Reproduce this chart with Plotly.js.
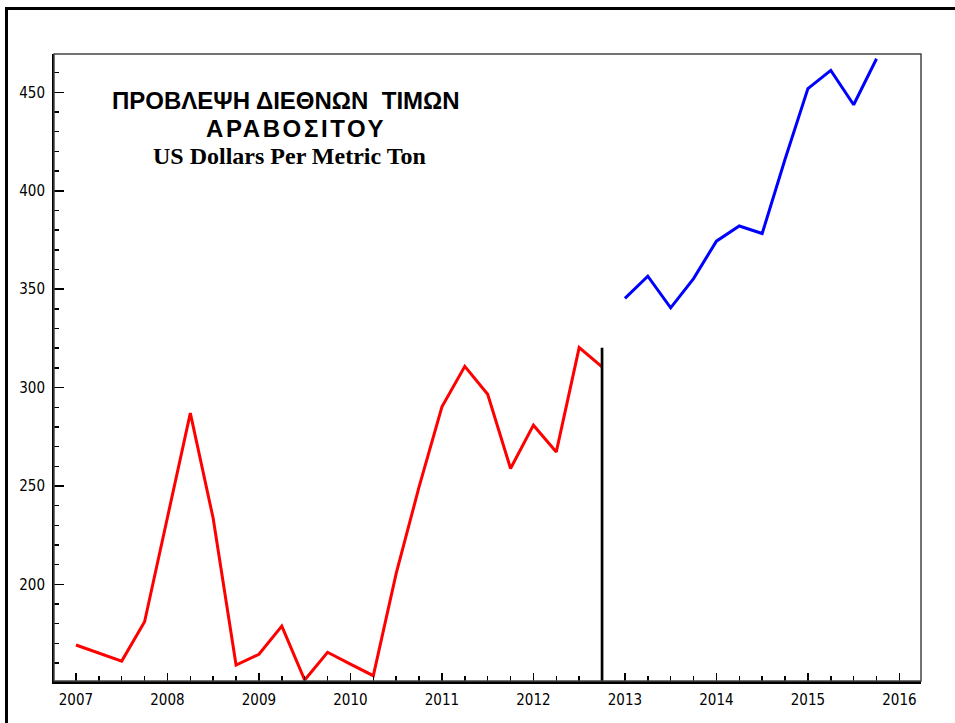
<!DOCTYPE html>
<html>
<head>
<meta charset="utf-8">
<script src="https://cdn.plot.ly/plotly-3.0.1.min.js"></script>
<style>html,body{margin:0;padding:0;background:#fff;}#chart{width:955px;height:723px;}</style>
</head>
<body>
<div id="chart"></div>
<script>
// Historical quarterly prices (red)
const histYears = [2007, 2007.25, 2007.5, 2007.75, 2008, 2008.25, 2008.5, 2008.75,
  2009, 2009.25, 2009.5, 2009.75, 2010, 2010.25, 2010.5, 2010.75,
  2011, 2011.25, 2011.5, 2011.75, 2012, 2012.25, 2012.5, 2012.75];
const histPrices = [169.2, 165, 161, 181, 234.3, 287, 233.5, 159,
  164.5, 178.8, 151.4, 165.5, 159.5, 153.6, 205.6, 249.5,
  290.2, 310.8, 296.6, 258.9, 280.9, 267.3, 320.3, 310.5];
// Forecast quarterly prices (blue)
const fcYears = [2013, 2013.25, 2013.5, 2013.75, 2014, 2014.25, 2014.5, 2014.75,
  2015, 2015.25, 2015.5, 2015.75];
const fcPrices = [345.3, 356.6, 340.5, 355.4, 374.4, 382.1, 378.3, 416,
  451.9, 461.2, 443.7, 467.1];
// Divider between history and forecast
const dividerX = [2012.75, 2012.75];
const dividerY = [150.9, 320.2];
// Axis ticks
const xTickVals = [2007, 2008, 2009, 2010, 2011, 2012, 2013, 2014, 2015, 2016];
const xTickText = ['2007', '2008', '2009', '2010', '2011', '2012', '2013', '2014', '2015', '2016'];
const yTickVals = [200, 250, 300, 350, 400, 450];
const yTickText = ['200', '250', '300', '350', '400', '450'];
// Titles
const titleLine1 = 'ΠΡΟΒΛΕΨΗ ΔΙΕΘΝΩΝ\u00A0 ΤΙΜΩΝ';
const titleLine2 = 'ΑΡΑΒΟΣΙΤΟΥ';
const titleLine3 = 'US Dollars Per Metric Ton';

const tickFont = {family: '"Liberation Sans Narrow", "DejaVu Sans Condensed", "Arial Narrow", sans-serif', size: 15, color: '#000'};

const traces = [
  {x: histYears, y: histPrices, type: 'scatter', mode: 'lines', line: {color: '#ff0000', width: 3}, hoverinfo: 'skip'},
  {x: fcYears, y: fcPrices, type: 'scatter', mode: 'lines', line: {color: '#0000ff', width: 3}, hoverinfo: 'skip'},
  {x: dividerX, y: dividerY, type: 'scatter', mode: 'lines', line: {color: '#000', width: 2.7}, hoverinfo: 'skip'}
];

const layout = {
  width: 955, height: 723,
  margin: {l: 54, r: 34, t: 54, b: 42, pad: 0},
  paper_bgcolor: '#fff', plot_bgcolor: '#fff',
  showlegend: false,
  xaxis: {
    range: [2006.76, 2016.236], type: 'linear',
    tickmode: 'array', tickvals: xTickVals, ticktext: xTickText,
    ticks: 'inside', ticklen: 8, tickwidth: 1.5, tickcolor: '#000',
    minor: {dtick: 0.25, tick0: 2007, ticks: 'inside', ticklen: 5, tickwidth: 1.5, tickcolor: '#000', showgrid: false},
    showline: true, linecolor: '#000', linewidth: 2.5,
    showgrid: false, zeroline: false, tickfont: tickFont, ticklabelstandoff: 3
  },
  yaxis: {
    range: [150.9, 469.5], type: 'linear',
    tickmode: 'array', tickvals: yTickVals, ticktext: yTickText,
    ticks: 'inside', ticklen: 10, tickwidth: 1.5, tickcolor: '#000',
    minor: {dtick: 10, tick0: 0, ticks: 'inside', ticklen: 5, tickwidth: 1.5, tickcolor: '#000', showgrid: false},
    showline: true, linecolor: '#000', linewidth: 2,
    showgrid: false, zeroline: false, tickfont: tickFont, ticklabelstandoff: 4
  },
  shapes: [
    {type: 'rect', xref: 'paper', yref: 'paper', x0: 0, x1: 1, y0: 0, y1: 1, line: {color: '#444', width: 1.5}, fillcolor: 'rgba(0,0,0,0)'},
    {type: 'rect', xref: 'paper', yref: 'paper', x0: -0.0548, x1: 1.3, y0: -0.3, y1: 1.0726, line: {color: '#000', width: 3}, fillcolor: 'rgba(0,0,0,0)'}
  ],
  annotations: [
    {text: '<b>' + titleLine1 + '</b>', xref: 'paper', yref: 'paper', x: 0.2676, y: 0.9258, xanchor: 'center', yanchor: 'middle', showarrow: false,
     font: {family: '"Liberation Sans", Arial, sans-serif', size: 24, color: '#000'}},
    {text: '<span style="letter-spacing:2.6px"><b>' + titleLine2 + '</b></span>', xref: 'paper', yref: 'paper', x: 0.2795, y: 0.8804, xanchor: 'center', yanchor: 'middle', showarrow: false,
     font: {family: '"Liberation Sans", Arial, sans-serif', size: 24, color: '#000'}},
    {text: '<b>' + titleLine3 + '</b>', xref: 'paper', yref: 'paper', x: 0.2716, y: 0.8375, xanchor: 'center', yanchor: 'middle', showarrow: false,
     font: {family: '"Liberation Serif", "Times New Roman", serif', size: 24, color: '#000'}}
  ]
};

Plotly.newPlot('chart', traces, layout, {staticPlot: true, displayModeBar: false});
</script>
</body>
</html>
